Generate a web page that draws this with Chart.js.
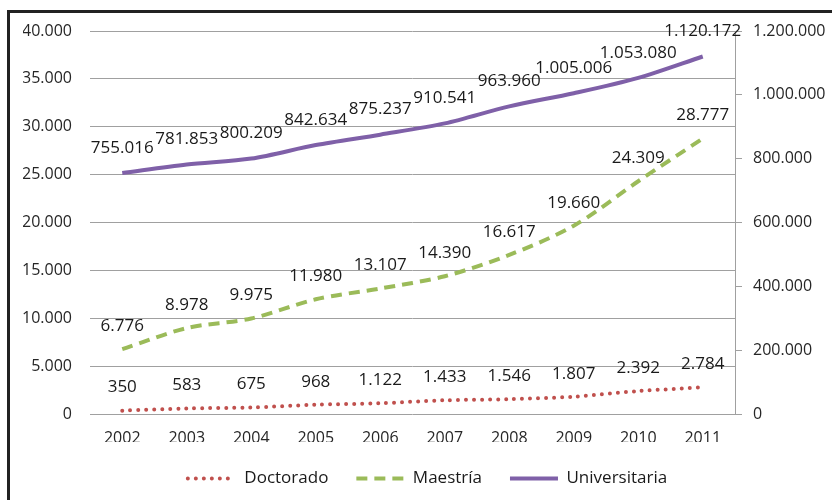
<!DOCTYPE html>
<html>
<head>
<meta charset="utf-8">
<script src="https://cdn.jsdelivr.net/npm/chart.js@4/dist/chart.umd.min.js"></script>
<style>
  html, body { margin: 0; padding: 0; background: #fff; }
  #wrap { position: relative; width: 832px; height: 500px; }
  #frame { position: absolute; left: 7px; top: 10px; width: 900px; height: 600px;
           border-top: 3px solid #222; border-left: 3px solid #222; pointer-events: none; }
</style>
</head>
<body>
<div id="wrap">
  <canvas id="c" width="832" height="500"></canvas>
  <div id="frame"></div>
</div>
<script>
const years = ['2002','2003','2004','2005','2006','2007','2008','2009','2010','2011'];
const doctorado = [350, 583, 675, 968, 1122, 1433, 1546, 1807, 2392, 2784];
const maestria = [6776, 8978, 9975, 11980, 13107, 14390, 16617, 19660, 24309, 28777];
const universitaria = [755016, 781853, 800209, 842634, 875237, 910541, 963960, 1005006, 1053080, 1120172];
const leftTicks = [0, 5000, 10000, 15000, 20000, 25000, 30000, 35000, 40000];
const rightTicks = [0, 200000, 400000, 600000, 800000, 1000000, 1200000];

function fmt(v) {
  const s = String(Math.round(Math.abs(v)));
  return (v < 0 ? '-' : '') + s.replace(/\B(?=(\d{3})+(?!\d))/g, '.');
}

const labelPlugin = {
  id: 'pointLabels',
  afterDatasetsDraw(chart) {
    const ctx = chart.ctx;
    ctx.save();
    ctx.font = '17px "Open Sans"';
    ctx.fillStyle = '#1a1a1a';
    ctx.textAlign = 'center';
    ctx.textBaseline = 'middle';
    chart.data.datasets.forEach((ds, i) => {
      const meta = chart.getDatasetMeta(i);
      const off = ds.labelOffset || 24;
      meta.data.forEach((pt, j) => {
        ctx.fillText(fmt(ds.data[j]), pt.x, pt.y - off);
      });
    });
    ctx.restore();
  }
};

new Chart(document.getElementById('c'), {
  type: 'line',
  data: {
    labels: years,
    datasets: [
      { label: 'Doctorado', data: doctorado, yAxisID: 'y',
        borderColor: '#C0504D', backgroundColor: '#C0504D', borderWidth: 4,
        borderDash: [0, 8], borderCapStyle: 'round', pointRadius: 0, tension: 0.3, labelOffset: 23 },
      { label: 'Maestría', data: maestria, yAxisID: 'y',
        borderColor: '#9BBB59', backgroundColor: '#9BBB59', borderWidth: 4,
        borderDash: [11, 7], borderCapStyle: 'butt', pointRadius: 0, tension: 0.3, labelOffset: 23 },
      { label: 'Universitaria', data: universitaria, yAxisID: 'y1',
        borderColor: '#7F60A8', backgroundColor: '#7F60A8', borderWidth: 4,
        pointRadius: 0, tension: 0.3, labelOffset: 25 }
    ]
  },
  options: {
    responsive: false,
    animation: false,
    layout: { padding: { left: 23, right: 0, top: 31, bottom: 3 } },
    plugins: {
      tooltip: { enabled: false },
      legend: {
        position: 'bottom',
        labels: {
          usePointStyle: true, pointStyle: 'line', pointStyleWidth: 48,
          padding: 28, color: '#1a1a1a',
          font: { family: '"Open Sans"', size: 17 },
          generateLabels(chart) {
            return chart.data.datasets.map((ds, i) => ({
              text: ds.label,
              datasetIndex: i,
              fillStyle: ds.borderColor,
              strokeStyle: ds.borderColor,
              lineWidth: ds.borderWidth,
              lineDash: ds.borderDash || [],
              lineCap: ds.borderCapStyle || 'butt',
              pointStyle: 'line',
              fontColor: '#1a1a1a',
              hidden: false
            }));
          }
        }
      }
    },
    scales: {
      x: {
        offset: true,
        grid: { display: false, drawTicks: false },
        border: { display: false },
        ticks: { color: '#262626', padding: 15, font: { family: '"Open Sans"', size: 16 }, maxRotation: 0 },
        afterFit(s) { s.height = 28; }
      },
      y: {
        position: 'left', min: 0, max: 40000,
        afterBuildTicks(s) { s.ticks = leftTicks.map(v => ({ value: v })); },
        grid: { color: '#A0A0A0', lineWidth: 1, drawTicks: false },
        border: { display: false },
        ticks: { color: '#262626', padding: 18, font: { family: '"Open Sans"', size: 16 }, callback: v => fmt(v) },
        afterFit(s) { s.width = 67; }
      },
      y1: {
        position: 'right', min: 0, max: 1200000,
        afterBuildTicks(s) { s.ticks = rightTicks.map(v => ({ value: v })); },
        grid: { drawOnChartArea: false, color: '#A0A0A0', tickLength: 7 },
        border: { display: true, color: '#A0A0A0', width: 1 },
        ticks: { color: '#262626', padding: 11, font: { family: '"Open Sans"', size: 16 }, callback: v => fmt(v) },
        afterFit(s) { s.width = 97; }
      }
    }
  },
  plugins: [labelPlugin]
});
</script>
</body>
</html>
